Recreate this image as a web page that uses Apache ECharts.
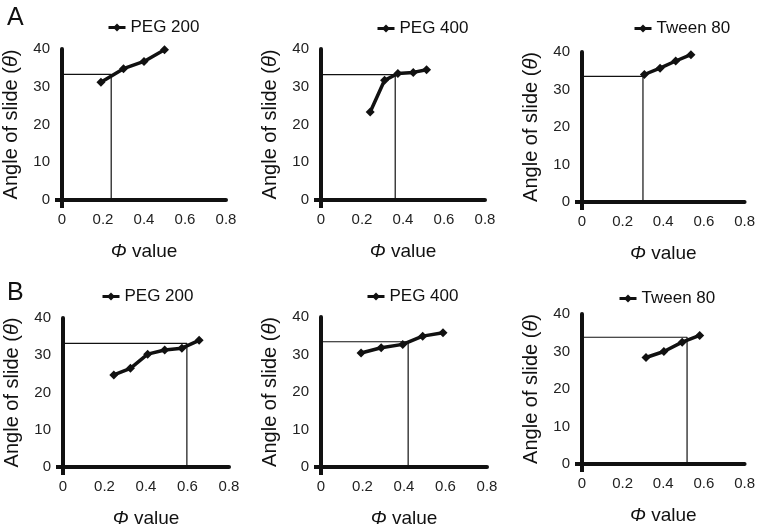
<!DOCTYPE html>
<html><head><meta charset="utf-8">
<script src="https://cdn.jsdelivr.net/npm/echarts@6/dist/echarts.min.js"></script>
<style>html,body{margin:0;padding:0;background:#fff}#c{width:758px;height:529px}</style>
</head><body><div id="c"></div>
<script>
// Panel labels and series names
const panelLetters = ['A', 'B'];
const seriesNames = ['PEG 200', 'PEG 400', 'Tween 80', 'PEG 200', 'PEG 400', 'Tween 80'];
// x ticks / y ticks
const xTicks = [0, 0.2, 0.4, 0.6, 0.8];
const yTicks = [0, 10, 20, 30, 40];
// Data (Φ value, angle of slide)
const a1X = [0.19, 0.30, 0.40, 0.50];
const a1Y = [31.2, 34.8, 36.7, 39.8];
const a2X = [0.24, 0.31, 0.375, 0.45, 0.515];
const a2Y = [23.3, 31.7, 33.5, 33.8, 34.5];
const a3X = [0.307, 0.384, 0.461, 0.536];
const a3Y = [34.0, 35.7, 37.6, 39.3];
const b1X = [0.245, 0.325, 0.408, 0.49, 0.573, 0.656];
const b1Y = [24.7, 26.5, 30.3, 31.4, 31.9, 34.0];
const b2X = [0.193, 0.29, 0.394, 0.49, 0.588];
const b2Y = [30.4, 31.8, 32.7, 34.9, 35.8];
const b3X = [0.315, 0.403, 0.493, 0.579];
const b3Y = [28.4, 30.0, 32.5, 34.3];
// Reference (read-off) points: [Φ, θ]
const refX = [0.24, 0.362, 0.30, 0.597, 0.42, 0.517];
const refY = [33.3, 33.2, 33.5, 33.2, 33.4, 33.8];

const xs = [a1X, a2X, a3X, b1X, b2X, b3X];
const ys = [a1Y, a2Y, a3Y, b1Y, b2Y, b3Y];

// layout
const grids = [
  {left: 62, top: 49, width: 164, height: 151},
  {left: 321, top: 49, width: 164, height: 151},
  {left: 582, top: 52, width: 165, height: 150},
  {left: 63, top: 318, width: 166, height: 151},
  {left: 321, top: 317, width: 166, height: 150},
  {left: 582, top: 314, width: 166, height: 150}
];
const legendPos = [
  {left: 102, top: 14}, {left: 371, top: 15}, {left: 628, top: 15},
  {left: 96, top: 283}, {left: 361, top: 283}, {left: 613, top: 285}
];
const FONT = 'Liberation Sans, Arial, sans-serif';

const option = {
  backgroundColor: '#fff',
  animation: false,
  title: [
    {text: panelLetters[0], left: 2, top: 1, textStyle: {fontFamily: FONT, fontSize: 25, fontWeight: 'normal', color: '#111'}},
    {text: panelLetters[1], left: 2, top: 276, textStyle: {fontFamily: FONT, fontSize: 25, fontWeight: 'normal', color: '#111'}}
  ],
  grid: grids.map(g => Object.assign({containLabel: false}, g)),
  legend: seriesNames.map((n, i) => ({
    data: [{name: n + '\u200b'.repeat(i)}],
    left: legendPos[i].left, top: legendPos[i].top,
    itemWidth: 17, itemHeight: 10, itemGap: 6,
    lineStyle: {width: 3},
    textStyle: {fontFamily: FONT, fontSize: 17, color: '#111'},
    selectedMode: false
  })),
  xAxis: grids.map((g, i) => ({
    type: 'value', gridIndex: i, min: 0, max: 0.8, interval: 0.2,
    name: '{i|Φ} value', nameLocation: 'middle', nameGap: 42,
    nameTextStyle: {fontFamily: FONT, fontSize: 19, color: '#111',
      rich: {i: {fontFamily: FONT, fontSize: 19, fontStyle: 'italic', color: '#111'}}},
    axisLine: {show: true, onZero: false, lineStyle: {color: '#111', width: 4}},
    axisTick: {show: true, customValues: [0], length: 8, lineStyle: {color: '#111', width: 4}},
    axisLabel: {fontFamily: FONT, fontSize: 15, color: '#222', margin: 12,
      formatter: v => xTicks.indexOf(+v.toFixed(1)) >= 0 ? String(+v.toFixed(1)) : ''},
    splitLine: {show: false}
  })),
  yAxis: grids.map((g, i) => ({
    type: 'value', gridIndex: i, min: 0, max: 40, interval: 10,
    name: 'Angle of slide ({i|θ})', nameLocation: 'middle', nameGap: 41,
    nameTextStyle: {fontFamily: FONT, fontSize: 20, color: '#111',
      rich: {i: {fontFamily: FONT, fontSize: 20, fontStyle: 'italic', color: '#111'}}},
    axisLine: {show: true, onZero: false, lineStyle: {color: '#111', width: 4}},
    axisTick: {show: true, customValues: [0], length: 7, lineStyle: {color: '#111', width: 4}},
    axisLabel: {fontFamily: FONT, fontSize: 15, color: '#222', margin: 12,
      formatter: v => yTicks.indexOf(v) >= 0 ? String(v) : ''},
    splitLine: {show: false}
  })),
  series: []
};

// reference lines (horizontal + vertical read-off)
refX.forEach((rx, i) => {
  option.series.push({
    type: 'line', xAxisIndex: i, yAxisIndex: i, silent: true,
    symbol: 'none', lineStyle: {color: '#111', width: 1.2}, z: 1,
    data: [[0, refY[i]], [rx, refY[i]], [rx, 0]]
  });
});
// data series
xs.forEach((xArr, i) => {
  option.series.push({
    name: seriesNames[i] + '\u200b'.repeat(i),
    type: 'line', xAxisIndex: i, yAxisIndex: i,
    symbol: 'diamond', symbolSize: 9,
    itemStyle: {color: '#111'}, lineStyle: {color: '#111', width: 3.5}, z: 3,
    data: xArr.map((x, k) => [x, ys[i][k]])
  });
});

const chart = echarts.init(document.getElementById('c'), null, {renderer: 'canvas'});
chart.setOption(option);
</script>
</body></html>
